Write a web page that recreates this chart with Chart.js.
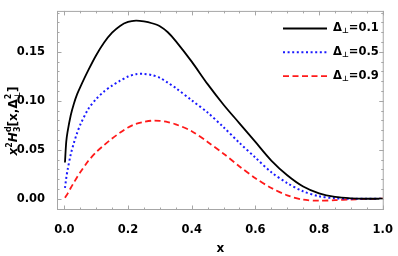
<!DOCTYPE html>
<html>
<head>
<meta charset="utf-8">
<script src="https://cdn.jsdelivr.net/npm/chart.js@4.4.0/dist/chart.umd.min.js"></script>
<style>
  html, body { margin: 0; padding: 0; background: #fff; }
</style>
</head>
<body>
<canvas id="chart" width="398" height="256"></canvas>
<script>
// sample points
const xs     = [0.002, 0.006, 0.01, 0.02, 0.03, 0.04, 0.05, 0.075, 0.1, 0.125, 0.15, 0.175, 0.2, 0.225, 0.25, 0.275, 0.3, 0.325, 0.35, 0.4, 0.45, 0.5, 0.55, 0.6, 0.65, 0.7, 0.75, 0.8, 0.85, 0.9, 0.95, 1.0]
const delta1 = [0.037, 0.058, 0.068, 0.085, 0.097, 0.1065, 0.114, 0.131, 0.1465, 0.1595, 0.1695, 0.1765, 0.1805, 0.1818, 0.181, 0.1792, 0.1762, 0.170, 0.161, 0.140, 0.117, 0.096, 0.077, 0.058, 0.039, 0.024, 0.0125, 0.0055, 0.0018, 0.0004, 0.0, 0.0]
const delta5 = [0.011, 0.021, 0.029, 0.045, 0.057, 0.067, 0.0755, 0.0915, 0.1018, 0.1096, 0.1155, 0.1205, 0.1248, 0.1272, 0.1275, 0.1262, 0.1235, 0.1185, 0.113, 0.1005, 0.088, 0.073, 0.057, 0.042, 0.027, 0.016, 0.0075, 0.0025, 0.0005, 0.0, 0.0, 0.0]
const delta9 = [0.001, 0.003, 0.005, 0.011, 0.0165, 0.022, 0.027, 0.0385, 0.0475, 0.0548, 0.0615, 0.0675, 0.0728, 0.0765, 0.0785, 0.0797, 0.0795, 0.0783, 0.076, 0.069, 0.058, 0.046, 0.033, 0.021, 0.011, 0.0035, -0.001, -0.002, -0.0015, -0.0008, -0.0002, 0.0]
const legendValues = ["0.1", "0.5", "0.9"]
const xMajor = [0, 0.2, 0.4, 0.6, 0.8, 1.0]
const yMajor = [0, 0.05, 0.10, 0.15]

const FONT = "'DejaVu Sans'"
const pts = (ys) => xs.map((x, i) => ({ x, y: ys[i] }))

// Mathematica style frame with inward ticks on all sides
const frame = {
    id: "frame",
    afterDraw(chart) {
        const { ctx, chartArea: a, scales } = chart
        ctx.save()
        ctx.strokeStyle = "#a6a6a6"
        ctx.lineWidth = 1
        ctx.strokeRect(a.left + 0.5, a.top + 0.5, a.right - a.left - 1, a.bottom - a.top - 1)
        ctx.beginPath()
        for (let k = 0; k <= 20; k++) {
            const v = k * 0.05
            const px = Math.round(scales.x.getPixelForValue(v)) + 0.5
            const len = k % 4 === 0 ? 4.5 : 2.5
            ctx.moveTo(px, a.bottom); ctx.lineTo(px, a.bottom - len)
            ctx.moveTo(px, a.top); ctx.lineTo(px, a.top + len)
        }
        for (let k = -1; k <= 19; k++) {
            const v = k * 0.01
            const py = Math.round(scales.y.getPixelForValue(v)) + 0.5
            const len = k % 5 === 0 ? 4.5 : 2.5
            ctx.moveTo(a.left, py); ctx.lineTo(a.left + len, py)
            ctx.moveTo(a.right, py); ctx.lineTo(a.right - len, py)
        }
        ctx.stroke()
        ctx.restore()
    }
}

function drawPieces(ctx, pieces, x, y) {
    let cx = x
    for (const p of pieces) {
        ctx.font = p.font
        const w = Math.max(...p.parts.map(q => { ctx.font = q.font || p.font; return ctx.measureText(q.t).width }))
        for (const q of p.parts) {
            ctx.font = q.font || p.font
            ctx.fillText(q.t, cx, y + (q.dy || 0))
        }
        cx += w
    }
    return cx - x
}

// axis title and legend with sub/superscripts
const labels = {
    id: "labels",
    afterDraw(chart) {
        const { ctx } = chart
        const big = "bold 12px " + FONT
        const bigI = "italic bold 12px " + FONT
        const small = "bold 8px " + FONT
        ctx.save()
        ctx.fillStyle = "#000"
        ctx.textBaseline = "alphabetic"
        const title = [
            { font: bigI, parts: [{ t: "x" }] },
            { font: small, parts: [{ t: "2", dy: -5 }] },
            { font: bigI, parts: [{ t: "H" }] },
            { font: small, parts: [{ t: "d", dy: -6 }, { t: "3", dy: 3 }] },
            { font: big, parts: [{ t: "[x,Δ" }] },
            { font: small, parts: [{ t: "2", dy: -6 }, { t: "⊥", dy: 3 }] },
            { font: big, parts: [{ t: "]" }] }
        ]
        ctx.translate(17, 121)
        ctx.rotate(-Math.PI / 2)
        ctx.globalAlpha = 0
        const w = drawPieces(ctx, title, 0, 0)
        ctx.globalAlpha = 1
        drawPieces(ctx, title, -w / 2, 0)
        ctx.restore()

        ctx.save()
        chart.data.datasets.forEach((ds, i) => {
            const y = 28.5 + i * 23.8
            ctx.strokeStyle = ds.borderColor
            ctx.lineWidth = ds.borderWidth
            ctx.setLineDash(ds.borderDash || [])
            ctx.beginPath()
            ctx.moveTo(283, y); ctx.lineTo(327, y)
            ctx.stroke()
            ctx.setLineDash([])
            ctx.fillStyle = "#000"
            ctx.textBaseline = "middle"
            drawPieces(ctx, [
                { font: "bold 11.5px " + FONT, parts: [{ t: "Δ" }] },
                { font: "bold 7.5px " + FONT, parts: [{ t: "⊥", dy: 3 }] },
                { font: "bold 11.5px " + FONT, parts: [{ t: "=" + legendValues[i] }] }
            ], 333, y)
        })
        ctx.restore()
    }
}

new Chart(document.getElementById("chart"), {
    type: "line",
    data: {
        datasets: [
            { data: pts(delta1), borderColor: "#000000", borderWidth: 1.8, pointRadius: 0, tension: 0.3 },
            { data: pts(delta5), borderColor: "#1a1aff", borderWidth: 2, borderDash: [2, 2.6], pointRadius: 0, tension: 0.3 },
            { data: pts(delta9), borderColor: "#ff1a1a", borderWidth: 1.8, borderDash: [6, 3.5], pointRadius: 0, tension: 0.3 }
        ]
    },
    options: {
        responsive: false,
        animation: false,
        devicePixelRatio: 1,
        layout: { padding: { top: 3, right: 10, left: 0, bottom: 0 } },
        plugins: { legend: { display: false }, tooltip: { enabled: false } },
        scales: {
            x: {
                type: "linear",
                min: -0.023, max: 1.003,
                afterBuildTicks: (s) => { s.ticks = xMajor.map(value => ({ value })) },
                afterFit: (s) => { s.height = 46 },
                grid: { display: false },
                border: { display: false },
                ticks: { color: "#000", padding: 5, maxRotation: 0, font: { family: FONT, weight: "bold", size: 11.5 }, callback: v => v.toFixed(1) },
                title: { display: true, text: "x", color: "#000", padding: { top: 0, bottom: 1 }, font: { family: FONT, weight: "bold", size: 12, lineHeight: 1 } }
            },
            y: {
                min: -0.0115, max: 0.1918,
                afterBuildTicks: (s) => { s.ticks = yMajor.map(value => ({ value })) },
                afterFit: (s) => { s.width = 57 },
                grid: { display: false },
                border: { display: false },
                ticks: { color: "#000", padding: 4, font: { family: FONT, weight: "bold", size: 11.5 }, callback: v => v.toFixed(2) }
            }
        }
    },
    plugins: [frame, labels]
})
</script>
</body>
</html>
